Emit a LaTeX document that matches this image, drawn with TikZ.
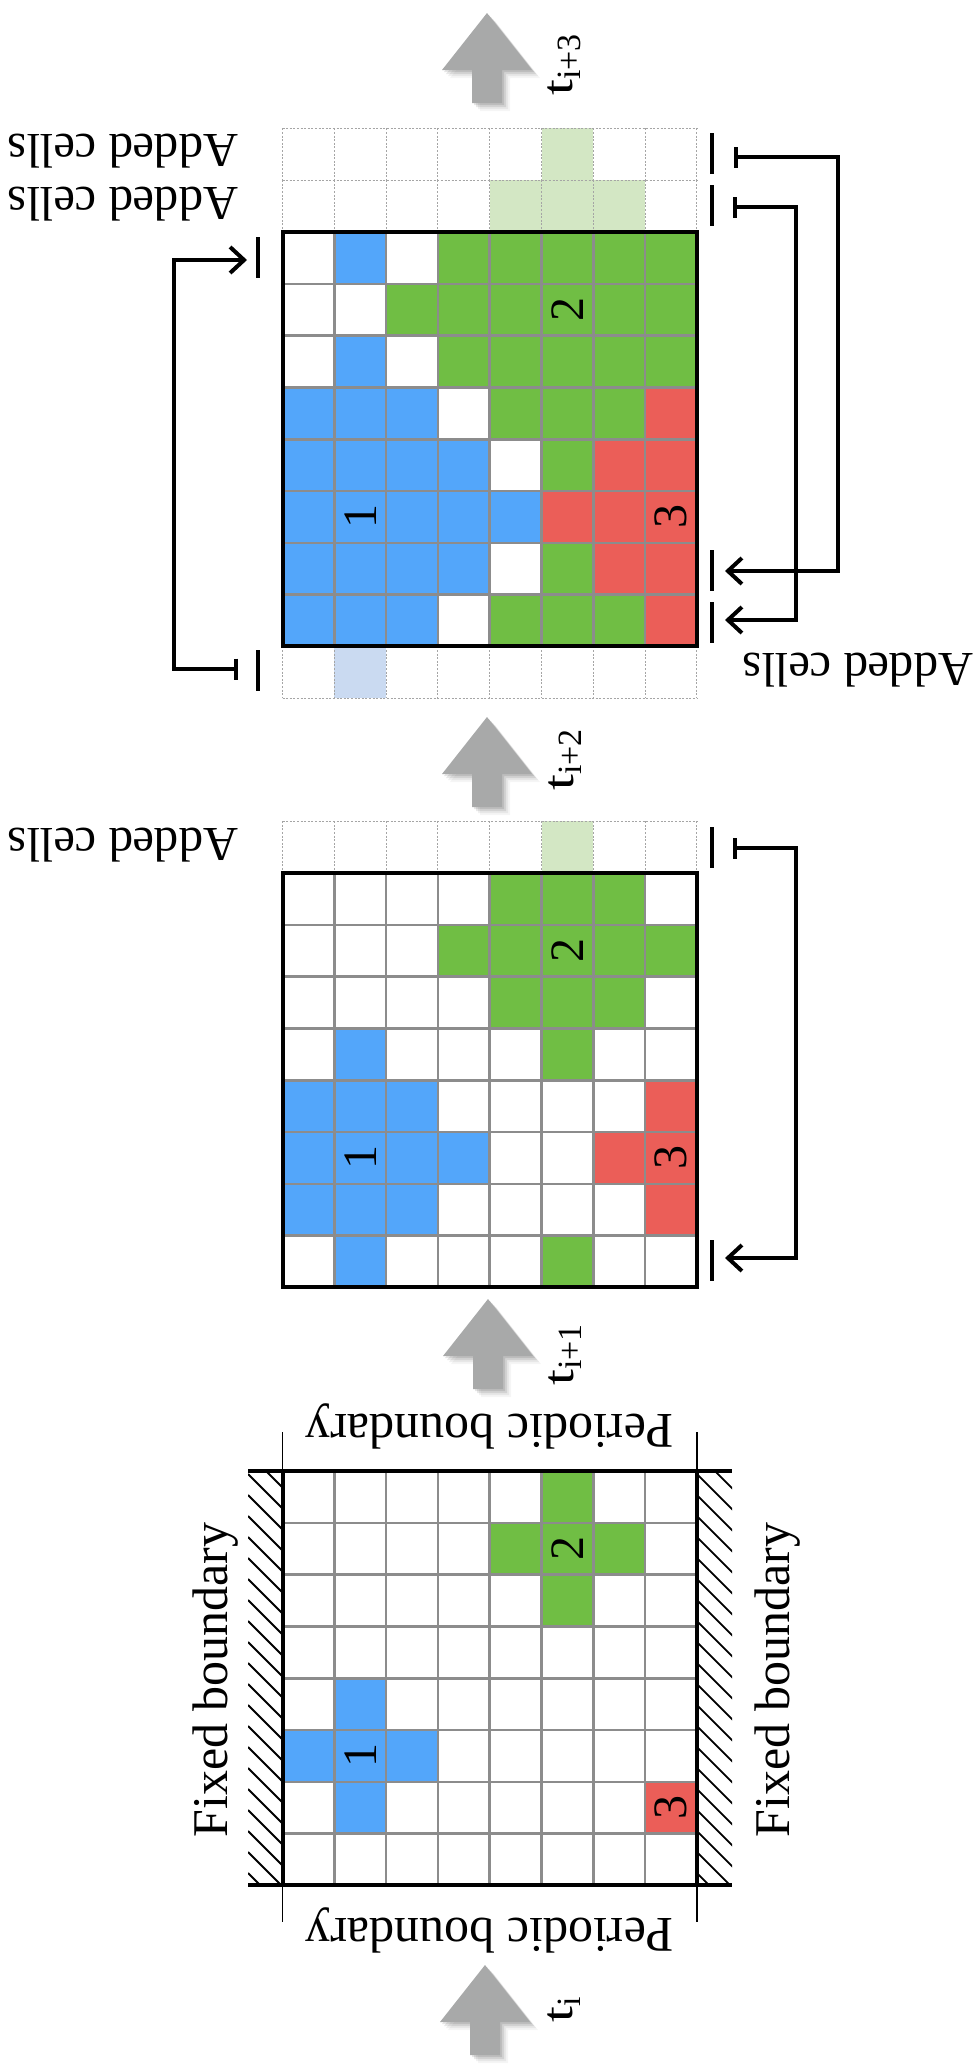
\documentclass[tikz,border=0pt]{standalone}
\usepackage{fontspec}
\usepackage{graphicx}
\setmainfont{Liberation Serif}
\usetikzlibrary{arrows.meta}

\definecolor{cblue}{RGB}{83,166,250}
\definecolor{cgreen}{RGB}{112,190,68}
\definecolor{cred}{RGB}{235,94,88}
\definecolor{lgreen}{RGB}{211,231,196}
\definecolor{lblue}{RGB}{202,218,241}
\definecolor{gline}{RGB}{140,140,140}
\definecolor{dline}{RGB}{165,165,165}
\definecolor{agray}{RGB}{168,169,169}

% fill a list of cells c/r with one colour
\newcommand\paintcells[2]{\foreach \c/\r in {#2} \fill[#1] (\c,\r) rectangle ++(1,1);}
% inner grey lines and heavy frame of an 8x8 lattice
\newcommand\latticelines{%
  \foreach \i in {1,...,7} {\draw[gridline] (\i,0) -- (\i,8); \draw[gridline] (0,\i) -- (8,\i);}
  \draw[border] (0,0) rectangle (8,8);}
% one dotted row of extra cells at row #1
\newcommand\extrarow[1]{%
  \draw[addline] (0,#1) -- (8,#1);
  \draw[addline] (0,#1+1) -- (8,#1+1);
  \foreach \i in {0,...,8} \draw[addline] (\i,#1) -- (\i,#1+1);}
% time stamp: upright t with a lowered index
\newcommand\tstamp[1]{{\fontsize{44}{50}\selectfont\scalebox{1.3}[1]{t}}\raisebox{-8pt}{\fontsize{34}{38}\selectfont #1}}

\tikzset{
  pics/timearrow/.style={code={
    \foreach \s/\o in {8/0.04,6/0.06,4/0.09,2/0.10}
      \fill[black,opacity=\o,shift={(\s,\s)}] (0,0) -- (45,57) -- (15,57) -- (15,90) -- (-15,90) -- (-15,57) -- (-45,57) -- cycle;
    \fill[agray] (0,0) -- (45,57) -- (15,57) -- (15,90) -- (-15,90) -- (-15,57) -- (-45,57) -- cycle;
  }}
}

\begin{document}
\begin{tikzpicture}[x=1pt,y=-1pt,
  gridline/.style={gline, line width=2.6pt},
  border/.style={black, line width=4pt},
  addline/.style={dline, line width=1.1pt, dash pattern=on 2pt off 1.6pt},
  hatchline/.style={black, line width=1.8pt},
  perline/.style={black, line width=1.8pt},
  bracket/.style={black, line width=4pt, {Bar[width=21pt]}-{Straight Barb[length=14pt,width=26pt]}},
  rowtick/.style={black, line width=4pt},
  lbl/.style={font=\fontsize{50}{60}\selectfont, inner sep=0pt},
  addlbl/.style={font=\fontsize{48.5}{58}\selectfont, inner sep=0pt, rotate=180},
  num/.style={font=\fontsize{48}{58}\selectfont, inner sep=0pt, rotate=90},
  tlbl/.style={inner sep=0pt, rotate=90},
]
\useasboundingbox (0,0) rectangle (974,2067);

% ---------------- lattice at t_i ----------------
\begin{scope}[shift={(282.5,1471)}, x=51.8pt, y=-51.8pt]
  \paintcells{cgreen}{5/0,4/1,5/1,6/1,5/2}
  \paintcells{cblue}{1/4,0/5,1/5,2/5,1/6}
  \paintcells{cred}{7/6}
  \latticelines
  \node[num] (a2) at (5.5,1.5) {2};
  \node[num] (a1) at (1.5,5.5) {1};
  \node[num] (a3) at (7.5,6.5) {3};
\end{scope}

% fixed walls (hatched) on both sides
\begin{scope}
  \clip (248,1471) rectangle (282.5,1885.4);
  \foreach \k in {-60,-39,...,440} \draw[hatchline] (248,1471+\k) -- ++(60,60);
\end{scope}
\begin{scope}
  \clip (696.9,1471) rectangle (732,1885.4);
  \foreach \k in {-60,-39,...,440} \draw[hatchline] (696.9,1471+\k) -- ++(60,60);
\end{scope}
\draw[border] (248,1471) -- (732,1471);
\draw[border] (248,1885.4) -- (732,1885.4);

% periodic boundary markers
\draw[perline] (282.5,1432) -- (282.5,1471);
\draw[perline] (696.9,1432) -- (696.9,1471);
\draw[perline] (282.5,1885.4) -- (282.5,1922);
\draw[perline] (696.9,1885.4) -- (696.9,1922);

\node[lbl, rotate=90] (fixL) at (216,1680) {Fixed boundary};
\node[lbl, rotate=90] (fixR) at (778,1680) {Fixed boundary};
\node[lbl, rotate=180] (perT) at (490,1426) {Periodic boundary};
\node[lbl, rotate=180] (perB) at (490,1930) {Periodic boundary};

% ---------------- lattice at t_{i+1} ----------------
\begin{scope}[shift={(282.5,873)}, x=51.8pt, y=-51.8pt]
  \paintcells{lgreen}{5/-1}
  \extrarow{-1}
  \paintcells{cgreen}{4/0,5/0,6/0,3/1,4/1,5/1,6/1,7/1,4/2,5/2,6/2,5/3,5/7}
  \paintcells{cblue}{1/3,0/4,1/4,2/4,0/5,1/5,2/5,3/5,0/6,1/6,2/6,1/7}
  \paintcells{cred}{7/4,6/5,7/5,7/6}
  \latticelines
  \node[num] (b2) at (5.5,1.5) {2};
  \node[num] (b1) at (1.5,5.5) {1};
  \node[num] (b3) at (7.5,5.5) {3};
\end{scope}
\node[addlbl] (addB) at (123,845) {Added cells};

% ---------------- lattice at t_{i+2} ----------------
\begin{scope}[shift={(282.5,232)}, x=51.8pt, y=-51.8pt]
  \paintcells{lgreen}{5/-2,4/-1,5/-1,6/-1}
  \paintcells{lblue}{1/8}
  \extrarow{-2}
  \extrarow{-1}
  \extrarow{8}
  \paintcells{cgreen}{3/0,4/0,5/0,6/0,7/0,2/1,3/1,4/1,5/1,6/1,7/1,3/2,4/2,5/2,6/2,7/2,4/3,5/3,6/3,5/4,5/6,4/7,5/7,6/7}
  \paintcells{cblue}{1/0,1/2,0/3,1/3,2/3,0/4,1/4,2/4,3/4,0/5,1/5,2/5,3/5,4/5,0/6,1/6,2/6,3/6,0/7,1/7,2/7}
  \paintcells{cred}{7/3,6/4,7/4,5/5,6/5,7/5,6/6,7/6,7/7}
  \latticelines
  \node[num] (c2) at (5.5,1.5) {2};
  \node[num] (c1) at (1.5,5.5) {1};
  \node[num] (c3) at (7.5,5.5) {3};
\end{scope}
\node[addlbl] (addC1) at (123,151) {Added cells};
\node[addlbl] (addC2) at (123,204) {Added cells};
\node[addlbl] (addC3) at (858,670) {Added cells};

% ---------------- copy brackets ----------------
\coordinate (g2s) at (733,848);   \coordinate (g2e) at (725,1258);
\coordinate (g3os) at (734,157);  \coordinate (g3oe) at (725,571);
\coordinate (g3is) at (733,207);  \coordinate (g3ie) at (725,620);
\coordinate (g3ls) at (238,669);  \coordinate (g3le) at (247,260);
\draw[bracket] (g2s) -- ++(63,0) |- (g2e);
\draw[bracket] (g3os) -- ++(104,0) |- (g3oe);
\draw[bracket] (g3is) -- ++(63,0) |- (g3ie);
\draw[bracket] (g3ls) -- ++(-64,0) |- (g3le);

% row markers beside copied rows
\foreach \y in {827,1240} \draw[rowtick] (712,\y) -- ++(0,41);
\foreach \y in {133,185,550,602} \draw[rowtick] (712,\y) -- ++(0,41);
\foreach \y in {237,650} \draw[rowtick] (258,\y) -- ++(0,41);

% ---------------- time arrows ----------------
\pic at (487,13) {timearrow};
\pic at (487,717) {timearrow};
\pic at (488,1299) {timearrow};
\pic at (485,1965) {timearrow};
\node[tlbl] (t3) at (564,65) {\tstamp{i+3}};
\node[tlbl] (t2) at (565,760) {\tstamp{i+2}};
\node[tlbl] (t1) at (565,1355) {\tstamp{i+1}};
\node[tlbl] (t0) at (564,2010) {\tstamp{i}};
\end{tikzpicture}
\end{document}
